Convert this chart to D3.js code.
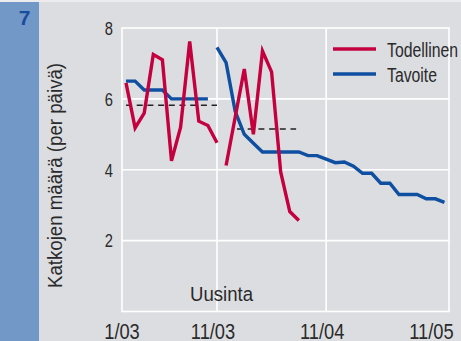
<!DOCTYPE html>
<html>
<head>
<meta charset="utf-8">
<script src="https://cdn.jsdelivr.net/npm/d3@7"></script>
<style>
  html, body { margin: 0; padding: 0; background: #dcdde0; }
  svg { display: block; }
  text { font-family: "Liberation Sans", Arial, sans-serif; fill: #2a2a2a; }
</style>
</head>
<body>
<svg id="chart" width="461" height="341"></svg>
<script>
// ---- data ----
const figureNumber = "7";
const yTitle = "Katkojen määrä (per päivä)";
const noteLabel = "Uusinta";
const seriesNames = ["Todellinen", "Tavoite"];
const yTicks = [2, 4, 6, 8];
const xTickMonths = [0, 10, 22, 34];
const xTickLabels = ["1/03", "11/03", "11/04", "11/05"];
const xGridMonths = [10, 22];

const actual1Months = [0, 1, 2, 3, 4, 5, 6, 7, 8, 9, 10];
const actual1 = [6.45, 5.18, 5.6, 7.25, 7.1, 4.25, 5.2, 7.62, 5.37, 5.25, 4.76];
const actual2Months = [11, 12, 13, 14, 15, 16, 17, 18, 19];
const actual2 = [4.12, 5.48, 6.84, 5.0, 7.35, 6.76, 3.94, 2.82, 2.57];

const target1Months = [0, 1, 2, 3, 4, 5, 6, 7, 8, 9];
const target1 = [6.5, 6.5, 6.25, 6.25, 6.25, 6.0, 6.0, 6.0, 6.0, 6.0];
const target2Months = [10, 11, 12, 13, 14, 15, 16, 17, 18, 19, 20, 21, 22, 23, 24, 25, 26, 27, 28, 29, 30, 31, 32, 33, 34, 35];
const target2 = [7.45, 7.02, 5.65, 5.0, 4.75, 4.5, 4.5, 4.5, 4.5, 4.5, 4.4, 4.4, 4.3, 4.2, 4.22, 4.1, 3.9, 3.9, 3.62, 3.62, 3.3, 3.3, 3.3, 3.18, 3.18, 3.08];

const avgFrom = [0, 12.2];
const avgTo = [10, 18.7];
const avgValue = [5.82, 5.15];

// ---- layout ----
const RED = "#c4003f", BLUE = "#0e4fa2";
const svg = d3.select("#chart");
const x = d3.scaleLinear().domain([-0.44, 35.5]).range([122, 449]);
const y = d3.scaleLinear().domain([0, 8]).range([311.5, 28]);

// condense text horizontally (narrow face emulation)
function condense(sel, k) {
  sel.each(function () {
    const w = this.getComputedTextLength();
    d3.select(this).attr("textLength", w * k).attr("lengthAdjust", "spacingAndGlyphs");
  });
}

// top light band and blue side strip
svg.append("rect").attr("x", 0).attr("y", 0).attr("width", 461).attr("height", 2).attr("fill", "#ececee");
svg.append("rect").attr("x", 0).attr("y", 2).attr("width", 39).attr("height", 339).attr("fill", "#7298c7");
svg.append("text").attr("x", 24.5).attr("y", 25).attr("text-anchor", "middle")
  .attr("font-weight", "bold").attr("font-size", 21).style("fill", "#1a4c9e").text(figureNumber);

// grid
const grid = svg.append("g").attr("stroke", "#ffffff").attr("stroke-width", 1.6).attr("fill", "none");
grid.append("rect").attr("x", x.range()[0]).attr("y", y.range()[1])
  .attr("width", x.range()[1] - x.range()[0]).attr("height", y.range()[0] - y.range()[1]);
grid.selectAll("line.h").data(yTicks.filter(d => d < 8)).join("line").attr("class", "h")
  .attr("x1", x.range()[0]).attr("x2", x.range()[1]).attr("y1", d => y(d)).attr("y2", d => y(d));
grid.selectAll("line.v").data(xGridMonths).join("line").attr("class", "v")
  .attr("x1", d => x(d)).attr("x2", d => x(d)).attr("y1", y.range()[0]).attr("y2", y.range()[1]);

// y axis labels
const yAxis = d3.axisLeft(y).tickValues(yTicks).tickSize(0).tickPadding(0).tickFormat(d3.format("d"));
const yg = svg.append("g").attr("transform", "translate(113,0)").call(yAxis);
yg.select(".domain").remove();
yg.selectAll("text").attr("font-size", 17.5).attr("dy", "0.36em").attr("font-family", null)
  .style("font-family", "'Liberation Sans', Arial, sans-serif").style("fill", "#2a2a2a");
condense(yg.selectAll("text"), 0.84);

// x axis labels
const xAxis = d3.axisBottom(x).tickValues(xTickMonths).tickSize(0).tickPadding(0)
  .tickFormat((d, i) => xTickLabels[i]);
const xg = svg.append("g").attr("transform", "translate(-4.5,339)").call(xAxis);
xg.select(".domain").remove();
xg.selectAll("text").attr("font-size", 22).attr("dy", 0).attr("y", 0)
  .style("font-family", "'Liberation Sans', Arial, sans-serif").style("fill", "#2a2a2a");
condense(xg.selectAll("text"), 0.83);

// y title
const yt = svg.append("text").attr("transform", "translate(62,175.5) rotate(-90)").attr("text-anchor", "middle")
  .attr("font-size", 19.5).text(yTitle);
condense(yt, 0.957);

// note
const nt = svg.append("text").attr("x", 221.5).attr("y", 300.7).attr("text-anchor", "middle").attr("font-size", 20.5).text(noteLabel);
condense(nt, 0.906);

// dashed averages
svg.append("g").selectAll("line").data(avgValue).join("line")
  .attr("x1", (d, i) => x(avgFrom[i])).attr("x2", (d, i) => x(avgTo[i]))
  .attr("y1", d => y(d)).attr("y2", d => y(d))
  .attr("stroke", "#222").attr("stroke-width", 1.3).attr("stroke-dasharray", "6,4.7");

// lines
const line = d3.line().x(d => x(d[0])).y(d => y(d[1]));
const zip = (a, b) => a.map((m, i) => [m, b[i]]);
const series = [
  { pts: zip(target1Months, target1), color: BLUE },
  { pts: zip(target2Months, target2), color: BLUE },
  { pts: zip(actual1Months, actual1), color: RED },
  { pts: zip(actual2Months, actual2), color: RED }
];
svg.append("g").selectAll("path").data(series).join("path")
  .attr("d", d => line(d.pts)).attr("fill", "none").attr("stroke", d => d.color)
  .attr("stroke-width", 3.4).attr("stroke-linejoin", "miter");

// legend
const lg = svg.append("g");
const legColors = [RED, BLUE];
const legY = [49, 74];
seriesNames.forEach((name, i) => {
  lg.append("line").attr("x1", 333).attr("x2", 376).attr("y1", legY[i]).attr("y2", legY[i])
    .attr("stroke", legColors[i]).attr("stroke-width", 3.6);
  const t = lg.append("text").attr("x", 387).attr("y", legY[i] + 7.5).attr("font-size", 19.5).text(name);
  condense(t, 0.81);
});
</script>
</body>
</html>
